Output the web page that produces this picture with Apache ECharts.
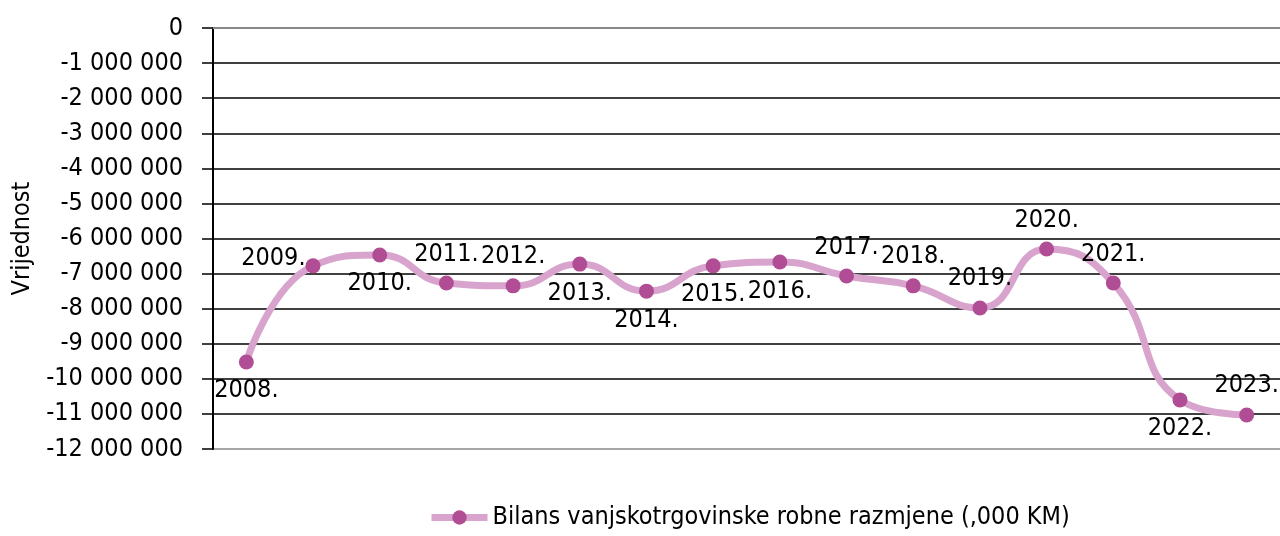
<!DOCTYPE html>
<html>
<head>
<meta charset="utf-8">
<script src="https://cdn.jsdelivr.net/npm/echarts@6/dist/echarts.min.js"></script>
<style>
  html, body { margin: 0; padding: 0; background: #fff; }
  #chart { width: 1280px; height: 536px; }
</style>
</head>
<body>
<div id="chart"></div>
<script>
// godine i bilans (,000 KM)
var years = ["2008.", "2009.", "2010.", "2011.", "2012.", "2013.", "2014.", "2015.",
  "2016.", "2017.", "2018.", "2019.", "2020.", "2021.", "2022.", "2023."];
var balance = [-9520000, -6780000, -6470000, -7270000, -7350000, -6730000, -7500000, -6780000,
  -6670000, -7070000, -7350000, -7980000, -6300000, -7270000, -10600000, -11030000];
var seriesName = "Bilans vanjskotrgovinske robne razmjene (,000 KM)";

// gdje stoji natpis uz tocku
var labelPos = ["bottom", "left", "bottom", "top", "top", "bottom", "bottom", "bottom",
  "bottom", "top", "top", "top", "top", "top", "bottom", "top"];

var font = '"Liberation Sans Narrow", "DejaVu Sans Condensed", sans-serif';

var chart = echarts.init(document.getElementById("chart"));

var points = [];
for (var i = 0; i < balance.length; i++) {
  var lbl = { position: labelPos[i] };
  if (labelPos[i] == "left") {
    lbl.offset = [0, -7];
    lbl.distance = 0;
  }
  points.push({ value: balance[i], label: lbl });
}

function fmt(v) {
  var s = Math.abs(v).toString().replace(/\B(?=(\d{3})+(?!\d))/g, " ");
  return (v < 0 ? "-" : "") + s;
}

var option = {
  animation: false,
  grid: { left: 213, right: 0, top: 28, bottom: 87, containLabel: false, outerBoundsMode: "none" },
  legend: {
    bottom: 6,
    left: 428,
    padding: 0,
    itemWidth: 56,
    itemHeight: 18,
    itemGap: 4,
    textStyle: { fontFamily: font, fontSize: 25, color: "#000" },
    lineStyle: { color: "#d8a3cc", width: 7 },
    itemStyle: { color: "#b04d94" },
    data: [seriesName]
  },
  xAxis: {
    type: "category",
    data: years,
    boundaryGap: true,
    axisLine: { lineStyle: { color: "#888", width: 2 } },
    axisTick: { show: false },
    axisLabel: { show: false }
  },
  yAxis: {
    type: "value",
    min: -12000000,
    max: 0,
    interval: 1000000,
    name: "Vrijednost",
    nameLocation: "middle",
    nameGap: 171,
    nameRotate: 90,
    nameTextStyle: { fontFamily: font, fontSize: 25, color: "#000" },
    axisLine: { show: true, lineStyle: { color: "#000", width: 2 } },
    axisTick: { show: true, length: 11, lineStyle: { color: "#000", width: 1.5 } },
    axisLabel: {
      fontFamily: font, fontSize: 25, color: "#000", margin: 30,
      formatter: fmt
    },
    splitLine: {
      lineStyle: {
        width: 1.5,
        color: ["#888", "#000", "#000", "#000", "#000", "#000", "#000",
          "#000", "#000", "#000", "#000", "#000", "#888"]
      }
    }
  },
  series: [
    {
      name: seriesName,
      type: "line",
      smooth: 0.5,
      symbol: "circle",
      symbolSize: 15,
      lineStyle: { color: "#d8a3cc", width: 7 },
      itemStyle: { color: "#b04d94" },
      label: {
        show: true,
        formatter: "{b}",
        fontFamily: font,
        fontSize: 25,
        color: "#000",
        distance: 9
      },
      data: points
    }
  ]
};

chart.setOption(option);
</script>
</body>
</html>
